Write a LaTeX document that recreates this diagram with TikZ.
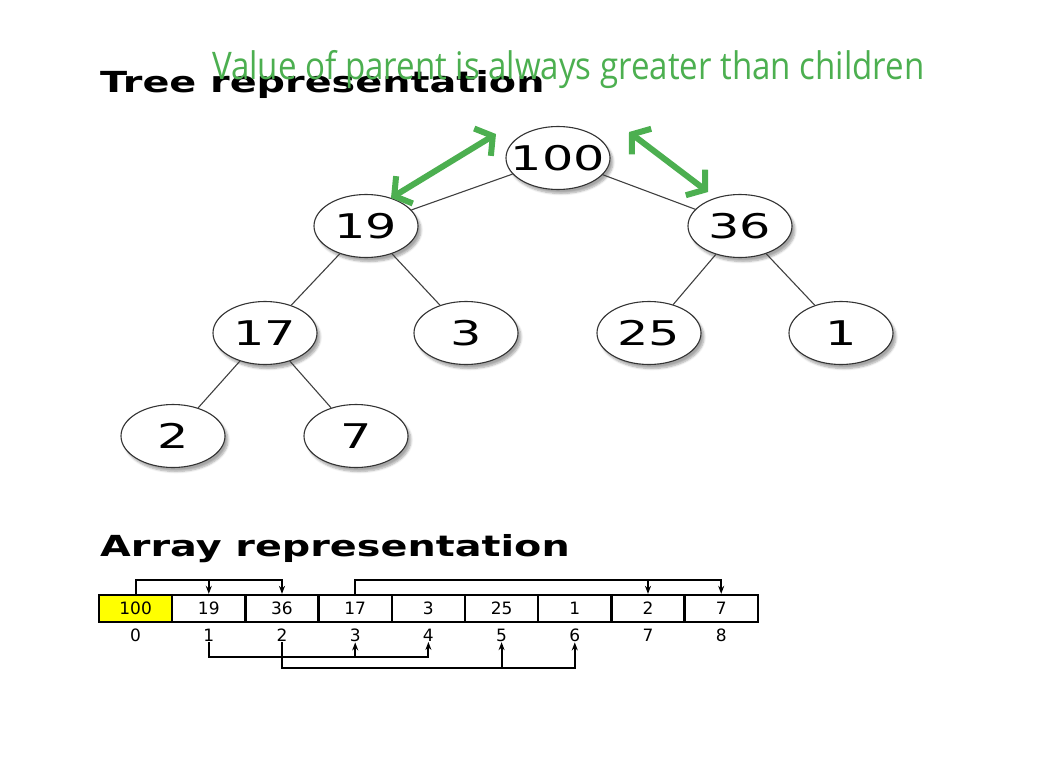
\documentclass[tikz,border=0pt]{standalone}
\usepackage{fontspec}
\usepackage{xcolor}
\setmainfont{DejaVu Sans}
\newfontfamily\treefont[FakeStretch=1.45]{DejaVu Sans}
\newfontfamily\headfont[FakeStretch=1.37]{DejaVu Sans}
\newfontfamily\notefont[FakeStretch=0.87]{Open Sans}
\usetikzlibrary{calc}
\usetikzlibrary{arrows.meta}
\usetikzlibrary{positioning}
\usetikzlibrary{shapes.geometric}
\usetikzlibrary{shadows.blur}
\definecolor{notegreen}{RGB}{76,175,80}
\definecolor{cellyellow}{RGB}{255,255,0}

\begin{document}
\begin{tikzpicture}[x=1pt, y=-1pt,
		heap/.style={ellipse, draw=black!80, line width=1.1pt, fill=white, minimum width=104pt, minimum height=63pt, inner xsep=-11pt, inner ysep=0pt,
			font=\fontsize{34}{34}\treefont,
			blur shadow={shadow xshift=3pt, shadow yshift=-4pt, shadow blur steps=6, shadow opacity=35}},
		branch/.style={draw=black!75, line width=1.1pt},
		cell/.style={draw, line width=2.3pt, minimum width=73.2pt, minimum height=27pt, inner sep=0pt, font=\fontsize{17}{17}\selectfont},
		idx/.style={inner sep=0pt, font=\fontsize{17}{17}\selectfont},
		link/.style={line width=2.1pt},
		arr/.style={link, -{Stealth[length=8pt, width=6pt]}},
		hint/.style={notegreen, line width=6pt, {Straight Barb[length=12pt, width=32pt]}-{Straight Barb[length=12pt, width=32pt]}},
		heading/.style={anchor=base west, inner sep=0pt, font=\fontsize{29}{29}\headfont\bfseries}]
		\useasboundingbox (0,0) rectangle (1045,763);

		% tree
		\node[heap] (n100) at (558,158) {100};
		\node[heap] (n19) at (366,226) {19};
		\node[heap] (n36) at (740,226) {36};
		\node[heap] (n17) at (265,333) {17};
		\node[heap] (n3) at (466,333) {3};
		\node[heap] (n25) at (649,333) {25};
		\node[heap] (n1) at (841,333) {1};
		\node[heap] (n2) at (173,436) {2};
		\node[heap] (n7) at (356,436) {7};

		\draw[branch] (n100) -- (n19);
		\draw[branch] (n100) -- (n36);
		\draw[branch] (n19) -- (n17);
		\draw[branch] (n19) -- (n3);
		\draw[branch] (n36) -- (n25);
		\draw[branch] (n36) -- (n1);
		\draw[branch] (n17) -- (n2);
		\draw[branch] (n17) -- (n7);

		\node[heading] (treetitle) at (100,92) {Tree representation};
		\node[anchor=base west, inner sep=0pt, text=notegreen, font=\fontsize{38}{38}\notefont] (note) at (212,79) {Value of parent is always greater than children};

		\coordinate (la) at (391,198);
		\coordinate (lb) at (496,134);
		\coordinate (ra) at (629,132);
		\coordinate (rb) at (708,192);
		\draw[hint] (la) -- (lb);
		\draw[hint] (ra) -- (rb);

		% array
		\node[heading] (arraytitle) at (100,556) {Array representation};
		\foreach \v [count=\i from 0] in {100,19,36,17,3,25,1,2,7} {
			\node[cell] (c\i) at (135.6+73.2*\i,608.5) {\v};
			\node[idx, below=6pt of c\i] (i\i) {\i};
		}
		\fill[cellyellow] ($(c0.south west)+(1.1,-1.1)$) rectangle ($(c0.north east)+(-1.1,1.1)$);
		\node[cell] at (c0) {100};

		\draw[arr] (c0.north) |- (c2.north |- 0,580) -- (c2.north);
		\draw[arr] (c1.north |- 0,580) -- (c1.north);
		\draw[arr] (c3.north) |- (c8.north |- 0,580) -- (c8.north);
		\draw[arr] (c7.north |- 0,580) -- (c7.north);

		\draw[arr] (i1.south) |- (i4.south |- 0,657) -- (i4.south);
		\draw[arr] (i3.south |- 0,657) -- (i3.south);
		\draw[arr] (i2.south) |- (i6.south |- 0,668) -- (i6.south);
		\draw[arr] (i5.south |- 0,668) -- (i5.south);
	\end{tikzpicture}
\end{document}
